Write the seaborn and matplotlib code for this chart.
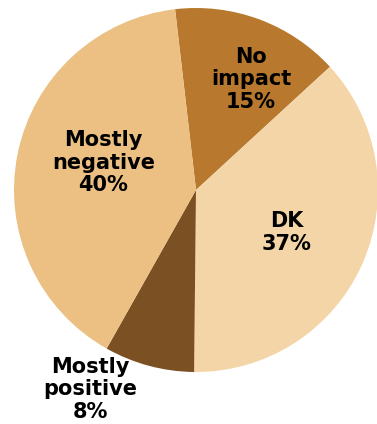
import numpy as np
import matplotlib
matplotlib.use("Agg")
import matplotlib.pyplot as plt
import seaborn as sns

sns.set_theme(style="white")
plt.rcParams['font.family'] = ['DejaVu Sans']

categories = ["No\nimpact", "DK", "Mostly\npositive", "Mostly\nnegative"]
values = [15, 37, 8, 40]
colors = ["#B8782E", "#F4D5A8", "#7B5022", "#EBC082"]

# label placement: (radius factor, angle shift in degrees)
label_pos = [(0.68, -6), (0.55, -1), (1.24, -13), (0.53, -5)]

fig = plt.figure(figsize=(3.77, 4.24), dpi=100)
ax = fig.add_axes([14/377, (424-190-182)/424, 364/377, 364/424])
wedges, _ = ax.pie(values, colors=colors, startangle=96.6, counterclock=False,
                   radius=1.0, wedgeprops=dict(linewidth=0))
ax.set_xlim(-1, 1)
ax.set_ylim(-1, 1)
ax.set_aspect("equal")
ax.axis("off")

for w, cat, v, (rf, shift) in zip(wedges, categories, values, label_pos):
    mid = np.deg2rad((w.theta1 + w.theta2) / 2 + shift)
    ax.text(rf * np.cos(mid), rf * np.sin(mid), f"{cat}\n{v}%",
            ha="center", va="center", fontsize=15, fontweight="bold",
            color="black", linespacing=1.15, clip_on=False)

fig.savefig("out.png", dpi=100)
